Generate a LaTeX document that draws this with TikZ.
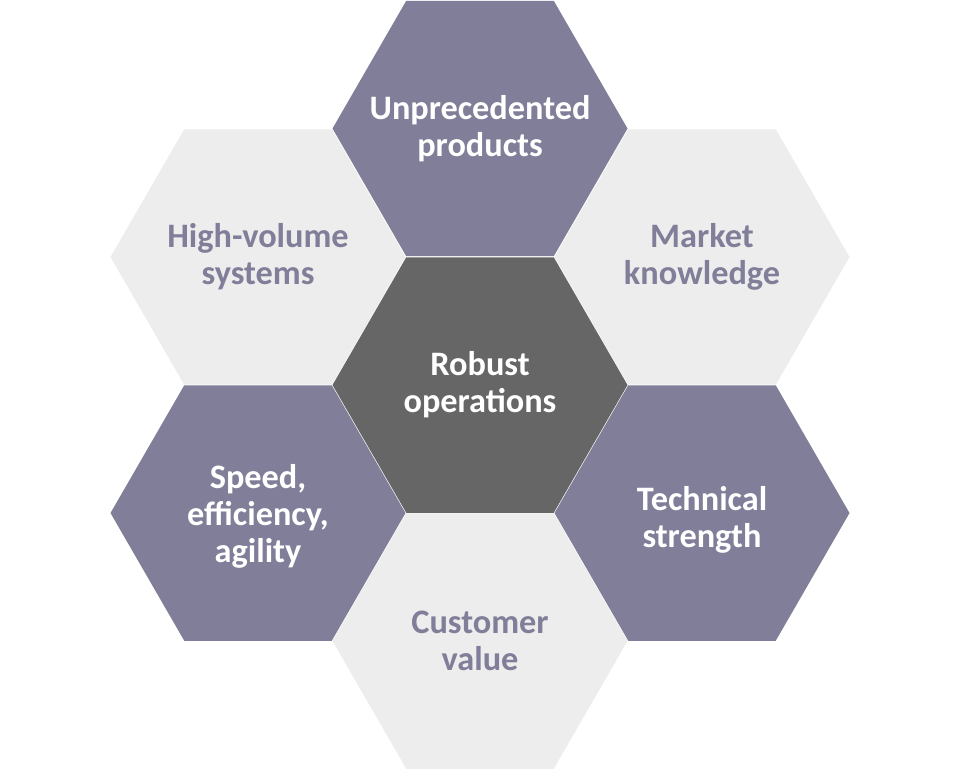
\documentclass[tikz,border=0pt]{standalone}
\usepackage{fontspec}
\setmainfont{Carlito}
\usetikzlibrary{shapes.geometric}
\definecolor{hexpurple}{HTML}{807E98}
\definecolor{hexdark}{HTML}{666666}
\definecolor{hexlight}{HTML}{EDEDED}
\tikzset{
  hexbase/.style={shape=regular polygon, regular polygon sides=6, minimum size=295pt,
    inner sep=0pt, outer sep=0pt},
  hextext/.style={align=center, inner sep=0pt, font=\fontsize{34.3}{37}\selectfont\bfseries},
  hexlightbox/.style={hexbase, fill=hexlight},
  hexpurplebox/.style={hexbase, fill=hexpurple},
  hexdarkbox/.style={hexbase, fill=hexdark},
  darktext/.style={hextext, text=hexpurple},
  whitetext/.style={hextext, text=white}
}
\begin{document}
\begin{tikzpicture}[x=1pt,y=-1pt]
\useasboundingbox[fill=white] (0,0) rectangle (960,772);
\node[hexlightbox] (hv) at (258,257) {};
\node[hexlightbox] (mk) at (702,257) {};
\node[hexlightbox] (cv) at (480,641) {};
\node[hexpurplebox] (up) at (480,128.5) {};
\node[hexpurplebox] (se) at (258,513) {};
\node[hexpurplebox] (ts) at (702,513) {};
\node[hexdarkbox] (ro) at (480,385) {};
\node[darktext] (hvt) at (hv) {High-volume\\systems};
\node[darktext] (mkt) at (mk) {Market\\knowledge};
\node[darktext] (cvt) at (cv) {Customer\\value};
\node[whitetext] (upt) at (up) {Unprecedented\\products};
\node[whitetext] (set) at ([yshift=-3pt]se.center) {Speed,\\efficiency,\\agility};
\node[whitetext] (tst) at ([yshift=-7pt]ts.center) {Technical\\strength};
\node[whitetext] (rot) at (ro) {Robust\\operations};
\end{tikzpicture}
\end{document}
